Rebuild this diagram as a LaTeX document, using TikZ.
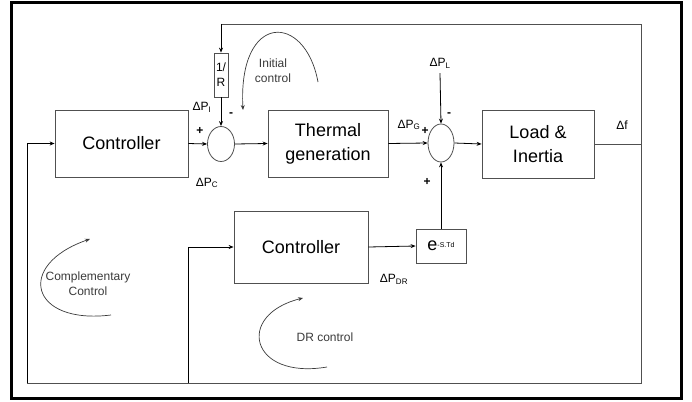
\documentclass[tikz,border=0pt]{standalone}
\usepackage{fontspec}
\setmainfont{Liberation Sans}
\usetikzlibrary{arrows.meta,shapes.geometric}
\definecolor{wire}{HTML}{505050}
\definecolor{note}{HTML}{3A3A3A}
\tikzset{
  blk/.style={draw=wire,line width=0.8pt,inner sep=0pt,align=center,font=\fontsize{18}{24}\selectfont,minimum width=#1},
  sumj/.style={ellipse,draw=wire,line width=0.8pt,inner sep=0pt,minimum width=27pt,minimum height=#1},
  lbl/.style={inner sep=0pt,font=\fontsize{12}{13}\selectfont},
  sgn/.style={inner sep=0pt,font=\fontsize{12}{12}\selectfont\bfseries},
  note/.style={inner sep=0pt,align=center,text=note,font=\fontsize{12}{15}\selectfont},
  flow/.style={-{Stealth[length=5pt,width=4pt]},line width=0.8pt},
  wireln/.style={line width=0.8pt,draw=wire},
  loop/.style={-{Stealth[length=5pt,width=4pt]},line width=0.7pt,draw=note},
}

\begin{document}
\begin{tikzpicture}[x=1pt,y=-1pt]
\useasboundingbox (0,0) rectangle (692,401);
\draw[line width=3pt] (11,3) rectangle (681,398);
% blocks
\node[blk=133pt,minimum height=67pt] (ctrl)  at (121.5,143.5) {Controller};
\node[blk=120pt,minimum height=67pt] (therm) at (328,143.5) {Thermal\\generation};
\node[blk=112pt,minimum height=68pt] (load)  at (538,144) {Load \&\\Inertia};
\node[blk=134pt,minimum height=72pt] (drctl) at (301,247) {Controller};
\node[blk=50pt,minimum height=34pt] (dly) at (441,246) {e\raisebox{0.3ex}{\fontsize{7}{8}\selectfont -S.Td}};
\node[blk=14pt,minimum height=44pt,font=\fontsize{12}{15}\selectfont] (rinv) at (221,75) {1/\\R};
\node[sumj=35pt] (sum1) at (221,144) {};
\node[sumj=38pt,minimum width=26pt] (sum2) at (441,143) {};
% corner points of the frequency loop
\coordinate (fb) at (641,144);
\coordinate (tr) at (641,24);
\coordinate (tl) at (221,24);
\coordinate (br) at (641,383);
\coordinate (bl) at (27,383);
\coordinate (bm) at (188,383);
% labels
\node[lbl] (pi)  at (202,107) {ΔP\textsubscript{I}};
\node[lbl] (pc)  at (207,183) {ΔP\textsubscript{C}};
\node[lbl] (pg)  at (409,125) {ΔP\textsubscript{G}};
\node[lbl] (pl)  at (440,63) {ΔP\textsubscript{L}};
\node[lbl] (df)  at (622,125) {Δf};
\node[lbl] (pdr) at (394,279) {ΔP\textsubscript{DR}};
\node[sgn] (s1) at (200,131) {+};
\node[sgn] (s2) at (231,115) {-};
\node[sgn] (s3) at (425,131) {+};
\node[sgn] (s4) at (449,115) {-};
\node[sgn] (s5) at (427,182) {+};
% forward path
\draw[flow] (ctrl.east) -- (sum1.west);
\draw[flow] (sum1.east) -- (therm.west);
\draw[flow] (therm.east) -- (sum2.west);
\draw[flow] (sum2.east) -- (load.west);
\draw[flow] (pl.south) ++(0,5) -- (sum2.north);
\draw[flow] (rinv.south) -- (sum1.north);
\draw[flow] (drctl.east) -- (dly.west);
\draw[flow] (dly.north) -- (sum2.south);
% feedback
\draw[wireln] (load.east) -- (fb) -- (tr) -- (tl);
\draw[flow] (tl) -- (rinv.north);
\draw[wireln] (fb) -- (br) -- (bl);
\draw[flow] (bl) -- (bl |- ctrl.west) -- (ctrl.west);
\draw[flow] (bm) -- (bm |- drctl.west) -- (drctl.west);
% control loop notes
\node[note] (initn) at (273,71) {Initial\\control};
\node[note] (compn) at (88,284) {Complementary\\Control};
\node[note] (drn)   at (325,337) {DR control};
\draw[loop] (318,82) .. controls (305,12) and (238,12) .. (243,110);
\draw[loop] (111,315) .. controls (30,325) and (15,265) .. (90,239);
\draw[loop] (327,367) .. controls (250,380) and (235,315) .. (303,298);
\end{tikzpicture}
\end{document}
